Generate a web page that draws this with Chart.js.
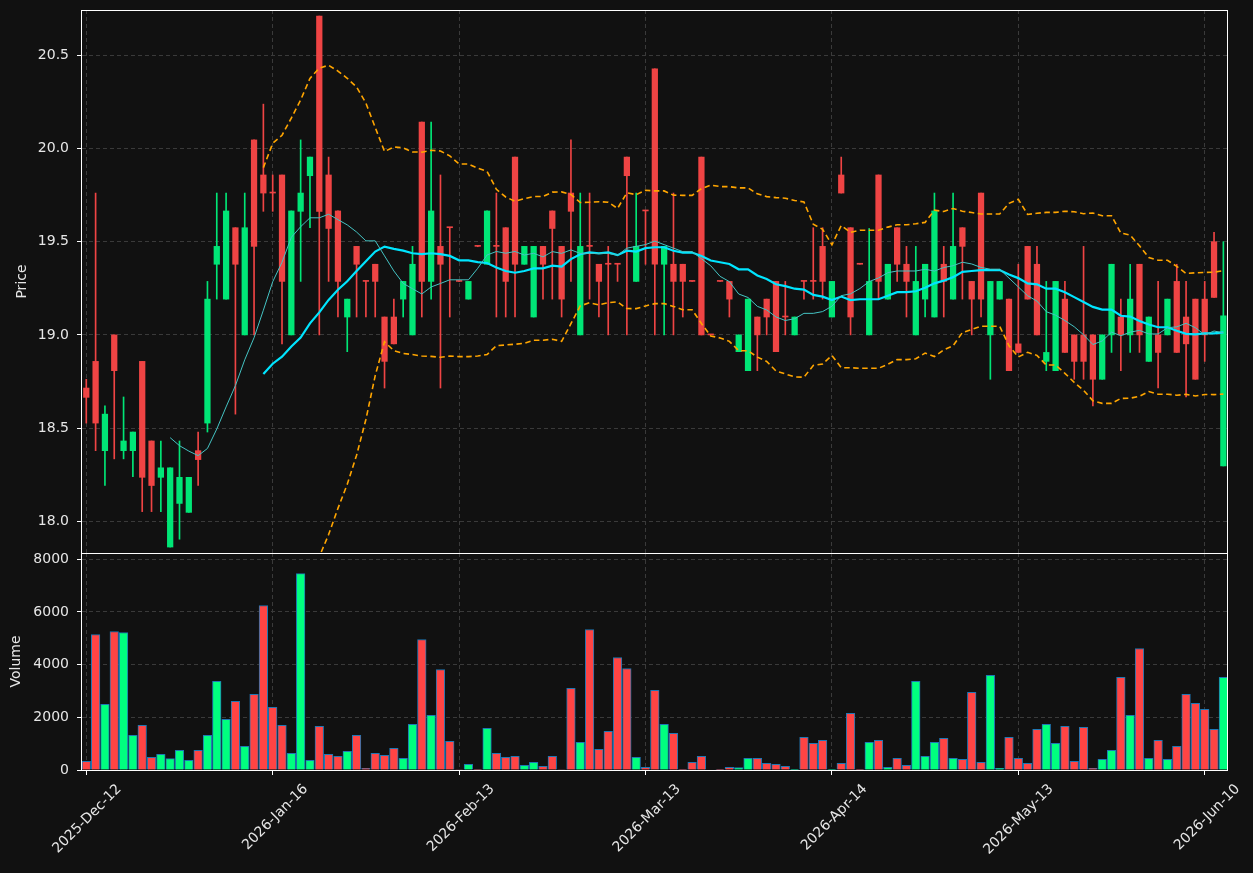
<!DOCTYPE html>
<html>
<head>
<meta charset="utf-8">
<script src="https://cdn.jsdelivr.net/npm/chart.js"></script>
<style>
html,body{margin:0;padding:0;background:#111111;}
#wrap{position:relative;width:1253px;height:873px;background:#111111;overflow:hidden;}
#price{position:absolute;left:0;top:0;}
#vol{position:absolute;left:0;top:553px;}
</style>
</head>
<body>
<div id="wrap">
<canvas id="price" width="1253" height="554"></canvas>
<canvas id="vol" width="1253" height="320"></canvas>
</div>
<script>
// ---------- data ----------
const dates = [
"2025-Dec-12","2025-Dec-15","2025-Dec-16","2025-Dec-17","2025-Dec-18","2025-Dec-19","2025-Dec-22","2025-Dec-23","2025-Dec-29","2025-Dec-30",
"2026-Jan-02","2026-Jan-05","2026-Jan-06","2026-Jan-07","2026-Jan-08","2026-Jan-09","2026-Jan-12","2026-Jan-13","2026-Jan-14","2026-Jan-15",
"2026-Jan-16","2026-Jan-19","2026-Jan-20","2026-Jan-21","2026-Jan-22","2026-Jan-23","2026-Jan-26","2026-Jan-27","2026-Jan-28","2026-Jan-29",
"2026-Jan-30","2026-Feb-02","2026-Feb-03","2026-Feb-04","2026-Feb-05","2026-Feb-06","2026-Feb-09","2026-Feb-10","2026-Feb-11","2026-Feb-12",
"2026-Feb-13","2026-Feb-16","2026-Feb-17","2026-Feb-18","2026-Feb-19","2026-Feb-20","2026-Feb-23","2026-Feb-24","2026-Feb-25","2026-Feb-26",
"2026-Feb-27","2026-Mar-02","2026-Mar-03","2026-Mar-04","2026-Mar-05","2026-Mar-06","2026-Mar-09","2026-Mar-10","2026-Mar-11","2026-Mar-12",
"2026-Mar-13","2026-Mar-16","2026-Mar-17","2026-Mar-18","2026-Mar-19","2026-Mar-20","2026-Mar-23","2026-Mar-24","2026-Mar-25","2026-Mar-26",
"2026-Mar-27","2026-Mar-30","2026-Mar-31","2026-Apr-01","2026-Apr-02","2026-Apr-07","2026-Apr-08","2026-Apr-09","2026-Apr-10","2026-Apr-13",
"2026-Apr-14","2026-Apr-15","2026-Apr-16","2026-Apr-17","2026-Apr-20","2026-Apr-21","2026-Apr-22","2026-Apr-23","2026-Apr-24","2026-Apr-27",
"2026-Apr-28","2026-Apr-29","2026-Apr-30","2026-May-04","2026-May-05","2026-May-06","2026-May-07","2026-May-08","2026-May-11","2026-May-12",
"2026-May-13","2026-May-14","2026-May-15","2026-May-18","2026-May-19","2026-May-20","2026-May-21","2026-May-22","2026-May-25","2026-May-26",
"2026-May-27","2026-May-28","2026-May-29","2026-Jun-01","2026-Jun-02","2026-Jun-03","2026-Jun-04","2026-Jun-05","2026-Jun-08","2026-Jun-09",
"2026-Jun-10","2026-Jun-11","2026-Jun-12"];

const opens = [
18.715,18.858,18.379,19.0,18.379,18.379,18.858,18.431,18.236,17.862,
18.096,18.048,18.379,18.527,19.379,19.192,19.575,19.0,20.046,19.858,
19.761,19.858,19.0,19.663,19.854,20.711,19.858,19.665,19.096,19.475,
19.287,19.379,19.096,19.096,19.192,19.0,20.142,19.287,19.475,19.575,
19.287,19.192,19.475,19.379,19.475,19.575,19.954,19.379,19.096,19.475,
19.665,19.475,19.761,19.0,19.475,19.379,19.379,19.379,19.954,19.287,
19.665,20.427,19.379,19.379,19.379,19.287,19.954,19.0,19.287,19.287,
18.910,18.808,19.096,19.192,19.287,19.096,19.0,19.287,19.287,19.475,
19.096,19.858,19.575,19.379,19.0,19.858,19.192,19.575,19.379,19.0,
19.192,19.096,19.379,19.192,19.575,19.287,19.761,19.0,19.192,19.192,
18.952,19.475,19.379,18.858,18.808,19.192,19.0,19.0,19.0,18.762,
19.0,19.096,19.0,19.379,18.858,19.0,19.0,19.287,19.096,19.192,
19.192,19.5,18.297];

const highs = [
18.762,19.761,18.619,19.0,18.667,18.479,18.858,18.431,18.431,18.287,
18.431,18.236,18.479,19.287,19.761,19.761,19.575,19.761,20.046,20.238,
19.858,19.858,19.665,20.046,19.954,20.711,19.954,19.665,19.192,19.475,
19.287,19.379,19.096,19.192,19.287,19.475,20.142,20.142,19.858,19.575,
19.29,19.287,19.477,19.665,19.761,19.575,19.954,19.475,19.475,19.475,
19.665,19.475,20.046,19.761,19.761,19.379,19.475,19.379,19.954,19.761,
19.665,20.427,19.475,19.761,19.379,19.287,19.954,19.0,19.287,19.287,
19.0,19.192,19.096,19.192,19.287,19.287,19.096,19.287,19.575,19.575,
19.287,19.954,19.575,19.379,19.571,19.858,19.379,19.575,19.475,19.475,
19.379,19.761,19.475,19.761,19.575,19.287,19.761,19.287,19.287,19.192,
19.379,19.475,19.475,19.287,19.287,19.287,19.0,19.475,19.0,19.0,
19.379,19.192,19.379,19.379,19.096,19.287,19.192,19.379,19.287,19.192,
19.287,19.55,19.5];

const lows = [
18.527,18.379,18.192,18.335,18.335,18.239,18.052,18.052,18.052,17.862,
17.904,18.048,18.192,18.479,19.192,19.192,18.575,19.0,19.0,19.663,
19.663,18.952,19.0,19.287,19.575,19.0,19.287,19.096,18.910,19.096,
19.096,19.096,18.715,18.952,19.096,19.0,19.096,19.192,18.715,19.096,
19.285,19.192,19.473,19.379,19.096,19.096,19.096,19.379,19.096,19.192,
19.192,19.096,19.287,19.0,19.192,19.096,19.0,19.287,19.0,19.287,
19.379,19.0,19.0,19.0,19.096,19.287,19.0,19.0,19.287,19.096,
18.910,18.808,18.808,19.0,18.910,19.0,19.0,19.192,19.192,19.192,
19.096,19.761,19.0,19.379,19.0,19.192,19.192,19.287,19.096,19.0,
19.096,19.096,19.096,19.192,19.192,19.0,19.096,18.762,19.192,18.808,
18.906,19.192,19.0,18.808,18.808,18.906,18.762,18.762,18.619,18.762,
18.906,18.808,18.906,18.906,18.858,18.715,19.0,18.906,18.667,18.762,
18.858,19.201,18.297];

const closes = [
18.665,18.527,18.575,18.808,18.431,18.479,18.236,18.192,18.287,18.287,
18.236,18.236,18.331,19.192,19.475,19.665,19.379,19.575,19.475,19.761,
19.761,19.287,19.665,19.761,19.954,19.663,19.571,19.287,19.192,19.379,
19.287,19.287,18.858,18.952,19.287,19.379,19.287,19.665,19.379,19.575,
19.287,19.287,19.475,19.665,19.475,19.287,19.379,19.475,19.475,19.379,
19.571,19.192,19.663,19.475,19.475,19.287,19.379,19.379,19.854,19.475,
19.665,19.379,19.475,19.287,19.287,19.287,19.0,19.0,19.287,19.192,
19.0,19.192,19.0,19.096,18.910,19.096,19.096,19.287,19.287,19.287,
19.287,19.761,19.096,19.379,19.287,19.287,19.379,19.379,19.287,19.287,
19.379,19.665,19.287,19.475,19.475,19.192,19.192,19.287,19.287,18.808,
18.906,19.192,19.0,18.906,19.287,18.906,18.858,18.858,18.762,19.0,
19.379,19.0,19.192,19.0,19.096,18.906,19.192,18.906,18.952,18.762,
19.0,19.201,19.102];

const volumes = [
329,5145,2490,5258,5220,1315,1694,480,594,430,
746,367,746,1315,3362,1921,2604,897,2869,6244,
2376,1694,632,7458,367,1656,594,518,708,1315,
63,632,556,822,442,1732,4955,2073,3817,1087,
20,215,25,1580,632,480,518,177,291,139,
518,20,3097,1049,5334,784,1466,4272,3855,480,
101,3021,1732,1390,10,291,518,0,5,101,
88,442,442,253,215,139,10,1239,1011,1125,
10,253,2149,10,1049,1125,101,442,177,3362,
518,1049,1201,442,404,2945,291,3590,63,1239,
442,253,1542,1732,1011,1656,329,1618,63,404,
746,3514,2073,4614,442,1125,404,897,2869,2528,
2300,1542,3514];

const xTickIndices = [0, 20, 40, 60, 80, 100, 120];
const priceTicks = [18.0, 18.5, 19.0, 19.5, 20.0, 20.5];
const volumeTicks = [0, 2000, 4000, 6000, 8000];
const maShort = 10, maLong = 20, bbMult = 2;

// ---------- indicators derived from the closes (as the original chart did) ----------
function sma(vals, n) {
  return vals.map((_, i) => {
    if (i < n - 1) return null;
    let s = 0; for (let k = i - n + 1; k <= i; k++) s += vals[k];
    return s / n;
  });
}
function rollStd(vals, n) {
  return vals.map((_, i) => {
    if (i < n - 1) return null;
    let s = 0; for (let k = i - n + 1; k <= i; k++) s += vals[k];
    const m = s / n; let q = 0;
    for (let k = i - n + 1; k <= i; k++) q += (vals[k] - m) * (vals[k] - m);
    return Math.sqrt(q / n);
  });
}
const ma10 = sma(closes, maShort);
const ma20 = sma(closes, maLong);
const sd20 = rollStd(closes, maLong);
const bbUp = ma20.map((m, i) => m === null ? null : m + bbMult * sd20[i]);
const bbLo = ma20.map((m, i) => m === null ? null : m - bbMult * sd20[i]);

// ---------- styles ----------
const UP = '#00e676', DOWN = '#ef4444';
const VUP = '#00ff7f', VDOWN = '#ff4444';
const GRID = '#3a3a3a', TXT = '#e6e6e6', FONT = 'DejaVu Sans';
const X_MIN = -0.46, X_MAX = 122.39;
const isUp = i => closes[i] > opens[i];
const pts = arr => arr.map((v, i) => ({x: i, y: v}));

const boxPlugin = {
  id: 'box',
  afterDraw(chart) {
    const {ctx, chartArea: a} = chart;
    ctx.save();
    ctx.strokeStyle = '#ffffff';
    ctx.lineWidth = 1;
    ctx.strokeRect(a.left - 0.5, a.top + 0.5, a.right - a.left + 1, a.bottom - a.top);
    ctx.restore();
  }
};

function noPad(s) { s.paddingTop = 0; s.paddingBottom = 0; s.paddingLeft = 0; s.paddingRight = 0; }

const xCommon = {
  type: 'linear', min: X_MIN, max: X_MAX, offset: false,
  afterBuildTicks: s => { s.ticks = xTickIndices.map(v => ({value: v})); },
  border: {display: false, dash: [4, 3]},
};

Chart.defaults.font.family = FONT;
Chart.defaults.animation = false;

new Chart(document.getElementById('price'), {
  type: 'bar',
  data: {
    datasets: [
      {type: 'line', data: pts(bbUp), borderColor: '#ffa500', borderWidth: 1.6, borderDash: [5.5, 3.5], pointRadius: 0, order: -1, clip: 0},
      {type: 'line', data: pts(bbLo), borderColor: '#ffa500', borderWidth: 1.6, borderDash: [5.5, 3.5], pointRadius: 0, order: -1, clip: 0},
      {type: 'line', data: pts(ma10), borderColor: '#45c4c4', borderWidth: 1, pointRadius: 0, order: -1, clip: 0},
      {type: 'line', data: pts(ma20), borderColor: '#00e5ff', borderWidth: 2.2, pointRadius: 0, order: -1, clip: 0},
      {data: closes.map((c, i) => ({x: i, y: [opens[i], c]})),
       backgroundColor: closes.map((c, i) => isUp(i) ? UP : DOWN),
       barThickness: 5.6, minBarLength: 1, grouped: false, order: 0},
      {data: closes.map((c, i) => ({x: i, y: [lows[i], highs[i]]})),
       backgroundColor: closes.map((c, i) => isUp(i) ? UP : DOWN),
       barThickness: 1, grouped: false, order: 1}
    ]
  },
  options: {
    responsive: false, animation: false,
    layout: {padding: {left: 0, right: 26, top: 10, bottom: 1}},
    plugins: {legend: {display: false}, tooltip: {enabled: false}},
    scales: {
      x: Object.assign({}, xCommon, {
        ticks: {display: false},
        grid: {color: GRID, drawTicks: false, lineWidth: 1, offset: false},
        afterFit: s => { s.height = 0; noPad(s); }
      }),
      y: {
        type: 'linear', min: 17.830, max: 20.743,
        afterBuildTicks: s => { s.ticks = priceTicks.map(v => ({value: v})); },
        ticks: {color: TXT, font: {family: FONT, size: 14}, padding: 8, callback: v => Number(v).toFixed(1)},
        grid: {color: GRID, tickColor: '#ffffff', tickLength: 5, lineWidth: 1},
        border: {display: false, dash: [4, 3]},
        title: {display: true, text: 'Price', color: TXT, font: {family: FONT, size: 14}, padding: {top: 14, bottom: 0}},
        afterFit: s => { s.width = 82; noPad(s); }
      }
    }
  },
  plugins: [boxPlugin]
});

new Chart(document.getElementById('vol'), {
  type: 'bar',
  data: {
    datasets: [
      {data: volumes.map((v, i) => ({x: i, y: v})),
       backgroundColor: volumes.map((v, i) => isUp(i) ? VUP : VDOWN),
       borderColor: '#1f77b4', borderWidth: 1, barThickness: 8.6, grouped: false}
    ]
  },
  options: {
    responsive: false, animation: false,
    layout: {padding: {left: 0, right: 26, top: 0, bottom: 0}},
    plugins: {legend: {display: false}, tooltip: {enabled: false}},
    scales: {
      x: Object.assign({}, xCommon, {
        ticks: {display: true, autoSkip: false, color: TXT, font: {family: FONT, size: 14},
                maxRotation: 45, minRotation: 45, padding: 6, labelOffset: 33,
                callback: v => dates[v]},
        grid: {color: GRID, drawTicks: true, tickLength: 5, tickColor: '#ffffff', lineWidth: 1, offset: false},
        afterFit: s => { s.height = 103; noPad(s); }
      }),
      y: {
        type: 'linear', min: 0, max: 8239,
        afterBuildTicks: s => { s.ticks = volumeTicks.map(v => ({value: v})); },
        ticks: {color: TXT, font: {family: FONT, size: 14}, padding: 8, callback: v => String(v)},
        grid: {color: GRID, tickColor: '#ffffff', tickLength: 5, lineWidth: 1},
        border: {display: false, dash: [4, 3]},
        title: {display: true, text: 'Volume', color: TXT, font: {family: FONT, size: 14}, padding: {top: 8, bottom: 0}},
        afterFit: s => { s.width = 82; noPad(s); }
      }
    }
  },
  plugins: [boxPlugin]
});
</script>
</body>
</html>
